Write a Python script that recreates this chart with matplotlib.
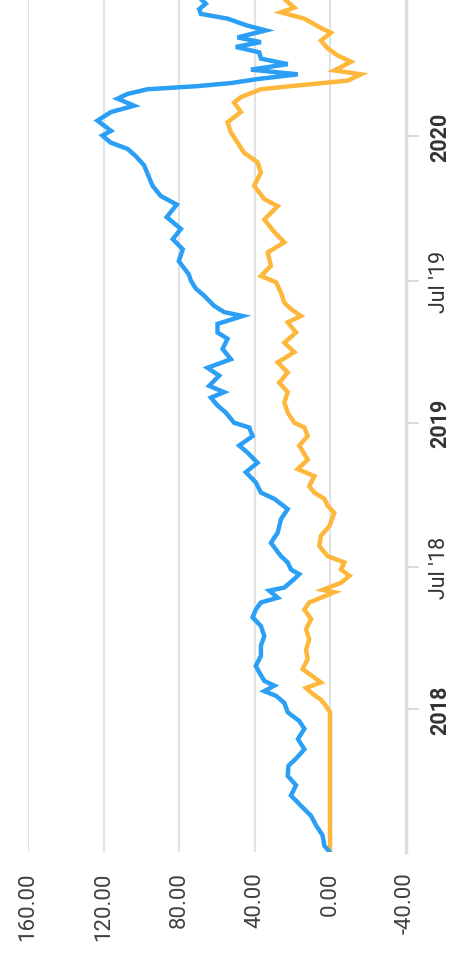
import numpy as np
import pandas as pd
import matplotlib
matplotlib.use("Agg")
import matplotlib.pyplot as plt
import matplotlib.dates as mdates

plt.rcParams['font.family'] = ['Roboto', 'DejaVu Sans']
plt.rcParams['axes.unicode_minus'] = False

# Blue series
blue_dates = [
    "2017-07-04", "2017-07-11", "2017-07-24", "2017-08-06", "2017-08-18", "2017-08-31",
    "2017-09-13", "2017-09-26", "2017-10-08", "2017-10-21", "2017-10-30", "2017-11-11",
    "2017-11-24", "2017-12-07", "2017-12-17", "2017-12-28", "2018-01-09", "2018-01-18",
    "2018-01-24", "2018-01-31", "2018-02-06", "2018-02-17", "2018-02-25", "2018-03-10",
    "2018-03-23", "2018-04-04", "2018-04-17", "2018-04-28", "2018-05-08", "2018-05-17",
    "2018-05-23", "2018-06-01", "2018-06-05", "2018-06-16", "2018-06-22", "2018-06-28",
    "2018-07-07", "2018-07-15", "2018-08-01", "2018-08-14", "2018-08-31", "2018-09-13",
    "2018-09-26", "2018-10-04", "2018-10-17", "2018-10-30", "2018-11-11", "2018-11-24",
    "2018-12-03", "2018-12-15", "2018-12-26", "2019-01-01", "2019-01-14", "2019-01-23",
    "2019-02-02", "2019-02-09", "2019-02-17", "2019-03-02", "2019-03-12", "2019-03-23",
    "2019-04-05", "2019-04-18", "2019-04-26", "2019-05-07", "2019-05-17", "2019-05-22",
    "2019-05-30", "2019-06-12", "2019-06-21", "2019-07-01", "2019-07-09", "2019-07-26",
    "2019-08-10", "2019-08-23", "2019-09-05", "2019-09-20", "2019-10-06", "2019-10-17",
    "2019-10-30", "2019-11-25", "2019-12-07", "2019-12-16", "2019-12-24", "2020-01-02",
    "2020-01-08", "2020-01-21", "2020-02-01", "2020-02-09", "2020-02-18", "2020-02-24",
    "2020-03-01", "2020-03-05", "2020-03-09", "2020-03-14", "2020-03-20", "2020-03-26",
    "2020-04-02", "2020-04-09", "2020-04-17", "2020-04-24", "2020-04-30", "2020-05-06",
    "2020-05-15", "2020-05-21", "2020-05-30", "2020-06-05", "2020-06-11", "2020-06-18",
    "2020-06-24",
]
blue_values = [
    0.5, 3.0, 3.9, 7.4, 10.0, 15.4,
    20.7, 18.0, 22.4, 22.0, 18.0, 13.6,
    17.0, 13.6, 16.3, 22.4, 24.2, 28.6,
    34.8, 29.5, 34.8, 37.5, 39.3, 36.6,
    36.6, 34.8, 36.6, 41.0, 39.3, 36.6,
    27.7, 32.2, 24.2, 18.9, 16.3, 20.7,
    22.4, 26.0, 31.3, 27.7, 26.0, 22.4,
    29.5, 36.6, 39.3, 44.6, 38.4, 43.7,
    48.1, 41.0, 42.8, 50.8, 55.2, 59.6,
    63.1, 56.1, 64.0, 58.7, 64.9, 52.5,
    56.9, 54.3, 59.6, 59.6, 46.3, 56.1,
    61.4, 66.7, 71.1, 73.7, 74.8, 80.1,
    78.0, 83.3, 79.0, 86.5, 81.2, 89.7,
    94.0, 98.5, 103.0, 107.3, 116.2, 120.6,
    116.0, 123.2, 116.0, 103.8, 112.6, 107.3,
    96.7, 70.0, 52.0, 38.4, 17.1, 41.9,
    22.4, 36.6, 37.5, 49.9, 36.6, 49.0,
    34.0, 43.7, 54.3, 68.4, 69.3, 65.8,
    68.4,
]

# Orange series
orange_dates = [
    "2017-07-04", "2017-12-28", "2018-01-05", "2018-01-13", "2018-01-22", "2018-01-28",
    "2018-02-04", "2018-02-12", "2018-02-21", "2018-03-06", "2018-03-18", "2018-03-31",
    "2018-04-13", "2018-04-26", "2018-05-08", "2018-05-17", "2018-05-23", "2018-05-30",
    "2018-06-02", "2018-06-11", "2018-06-20", "2018-06-28", "2018-07-07", "2018-07-15",
    "2018-07-28", "2018-08-10", "2018-08-22", "2018-09-08", "2018-09-17", "2018-09-26",
    "2018-10-04", "2018-10-12", "2018-10-25", "2018-11-03", "2018-11-15", "2018-12-03",
    "2018-12-15", "2018-12-26", "2019-01-01", "2019-01-14", "2019-01-27", "2019-02-09",
    "2019-02-21", "2019-03-06", "2019-03-19", "2019-04-01", "2019-04-13", "2019-04-26",
    "2019-05-09", "2019-05-17", "2019-05-26", "2019-06-03", "2019-06-16", "2019-06-29",
    "2019-07-07", "2019-07-20", "2019-08-06", "2019-08-19", "2019-09-01", "2019-09-17",
    "2019-10-04", "2019-10-13", "2019-10-30", "2019-11-16", "2019-11-29", "2019-12-11",
    "2019-12-24", "2020-01-06", "2020-01-19", "2020-02-01", "2020-02-13", "2020-02-20",
    "2020-03-01", "2020-03-05", "2020-03-12", "2020-03-20", "2020-03-25", "2020-04-05",
    "2020-04-13", "2020-04-22", "2020-05-02", "2020-05-12", "2020-05-18", "2020-05-30",
    "2020-06-07", "2020-06-13", "2020-06-24",
]
orange_values = [
    0.0, 0.0, 2.1, 4.8, 10.0, 12.7,
    4.8, 9.2, 14.5, 11.8, 12.7, 11.0,
    12.7, 10.0, 13.6, 11.0, 4.8, -2.3,
    3.9, -5.8, -10.3, -5.8, -7.6, 1.2,
    5.7, 4.8, 0.4, -2.3, 1.2, 3.0,
    8.3, 11.0, 8.3, 17.1, 11.8, 16.3,
    11.8, 13.6, 18.9, 22.4, 24.2, 22.4,
    26.9, 22.4, 27.7, 18.9, 24.2, 18.0,
    22.4, 15.4, 20.7, 24.2, 26.0, 28.6,
    36.6, 31.3, 33.0, 24.2, 29.5, 34.8,
    27.7, 34.8, 40.2, 36.6, 38.4, 45.5,
    49.0, 52.5, 54.3, 47.2, 50.8, 47.2,
    36.6, 20.7, -9.4, -16.4, -2.3, -11.1,
    -4.1, 1.2, 4.8, -0.5, 4.8, 13.6,
    26.0, 18.9, 24.2,
]

value_ticks = [160, 120, 80, 40, 0, -40]
date_ticks = ["2018-01-01", "2018-07-01", "2019-01-01", "2019-07-01", "2020-01-01"]
date_labels = ["2018", "Jul '18", "2019", "Jul '19", "2020"]

blue_d = pd.to_datetime(blue_dates)
orange_d = pd.to_datetime(orange_dates)

fig = plt.figure(figsize=(4.54, 9.54), dpi=100)
ax = fig.add_axes([28 / 454, 101 / 954, (405.5 - 28) / 454, 853 / 954])

ax.plot(orange_values, orange_d, color="#FDB73B", lw=3.2, solid_joinstyle="miter", zorder=3)
ax.plot(blue_values, blue_d, color="#2A9FF5", lw=3.2, solid_joinstyle="miter", zorder=4)

ax.set_xlim(160, -40)
ax.set_ylim(pd.Timestamp("2017-07-03"), pd.Timestamp("2020-06-24"))

ax.set_xticks(value_ticks)
ax.set_xticklabels(["%.2f" % v for v in value_ticks], rotation=90, va="top",
                   ha="center", fontsize=16, color="#404040")
ax.tick_params(axis="x", length=0, pad=14)
ax.grid(axis="x", color="#e2e2e2", lw=1.5, zorder=0)

ax.yaxis.tick_right()
ax.set_yticks(pd.to_datetime(date_ticks))
ax.set_yticklabels(date_labels, rotation=90, va="center", ha="left",
                   fontsize=15.5, color="#333333")
for lbl in ax.get_yticklabels():
    if "'" not in lbl.get_text():
        lbl.set_fontweight("bold")
ax.tick_params(axis="y", length=9, width=1.5, color="#dcdcdc", pad=8)

for s in ["top", "left", "bottom"]:
    ax.spines[s].set_visible(False)
ax.spines["right"].set_color("#dcdcdc")
ax.spines["right"].set_linewidth(2.5)

fig.savefig("out.png", dpi=100)
